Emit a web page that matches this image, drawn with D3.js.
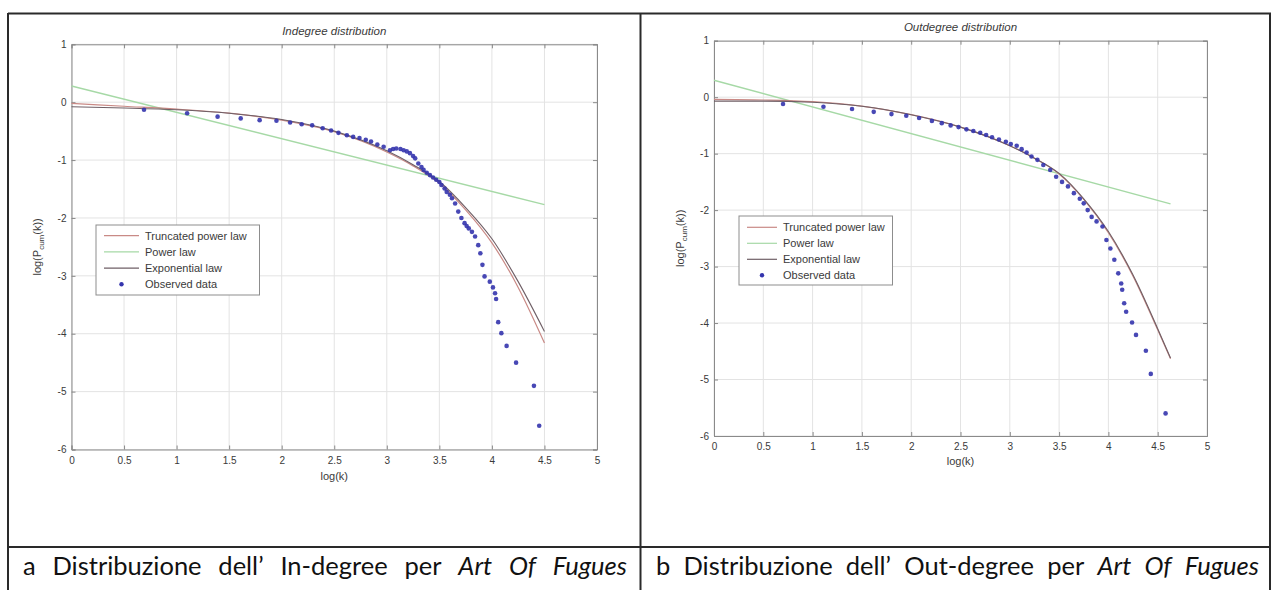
<!DOCTYPE html>
<html><head><meta charset="utf-8">
<script src="https://cdn.jsdelivr.net/npm/d3@7"></script>
<style>body{margin:0;background:#fff}svg{display:block}</style>
</head><body>
<svg id="c" width="1273" height="590"></svg>
<script>
// ---------- data ----------
const xTickValues = [0, 0.5, 1, 1.5, 2, 2.5, 3, 3.5, 4, 4.5, 5];
const xTickLabels = ["0", "0.5", "1", "1.5", "2", "2.5", "3", "3.5", "4", "4.5", "5"];
const yTickValues = [-6, -5, -4, -3, -2, -1, 0, 1];
const yTickLabels = ["-6", "-5", "-4", "-3", "-2", "-1", "0", "1"];
const legendLabels = ["Truncated power law", "Power law", "Exponential law", "Observed data"];
const panelTitles = ["Indegree distribution", "Outdegree distribution"];
const xAxisLabel = "log(k)";
const captionWordsA = [["a",0],["Distribuzione",0],["dell’",0],["In-degree",0],["per",0],["Art",1],["Of",1],["Fugues",1]];
const captionWordsB = [["b",0],["Distribuzione",0],["dell’",0],["Out-degree",0],["per",0],["Art",1],["Of",1],["Fugues",1]];

// Indegree panel
const inPowerLaw = [[0, 0.28], [4.5, -1.77]];
const inTruncated = [[0,-0.02],[0.5,-0.07],[1,-0.12],[1.5,-0.19],[2,-0.31],[2.5,-0.51],[3,-0.86],[3.25,-1.1],[3.5,-1.4],[3.75,-1.86],[4,-2.43],[4.25,-3.2],[4.5,-4.16]];
const inExponential = [[0,-0.08],[0.5,-0.1],[1,-0.13],[1.5,-0.19],[2,-0.3],[2.5,-0.5],[3,-0.84],[3.25,-1.08],[3.5,-1.37],[3.75,-1.82],[4,-2.36],[4.25,-3.1],[4.5,-3.96]];
const inObserved = [[0.69,-0.13],[1.1,-0.19],[1.39,-0.25],[1.61,-0.28],[1.79,-0.31],[1.95,-0.32],[2.08,-0.35],[2.19,-0.38],[2.29,-0.40],[2.39,-0.45],[2.47,-0.49],[2.54,-0.53],[2.62,-0.57],[2.68,-0.60],[2.74,-0.62],[2.8,-0.65],[2.85,-0.68],[2.91,-0.73],[2.97,-0.77],[3.03,-0.83],[3.06,-0.81],[3.09,-0.80],[3.13,-0.81],[3.16,-0.83],[3.19,-0.85],[3.22,-0.88],[3.25,-0.93],[3.27,-0.97],[3.3,-1.06],[3.33,-1.12],[3.35,-1.17],[3.38,-1.22],[3.41,-1.26],[3.44,-1.3],[3.47,-1.34],[3.5,-1.38],[3.52,-1.43],[3.55,-1.49],[3.57,-1.55],[3.6,-1.6],[3.62,-1.66],[3.65,-1.75],[3.68,-1.89],[3.71,-2.0],[3.74,-2.09],[3.76,-2.14],[3.78,-2.18],[3.81,-2.24],[3.84,-2.32],[3.87,-2.47],[3.89,-2.61],[3.91,-2.81],[3.93,-3.01],[3.98,-3.1],[4.01,-3.2],[4.03,-3.3],[4.04,-3.4],[4.06,-3.8],[4.09,-3.99],[4.14,-4.21],[4.23,-4.5],[4.4,-4.9],[4.45,-5.59]];

// Outdegree panel
const outPowerLaw = [[0, 0.30], [4.63, -1.89]];
const outTruncated = [[0,-0.04],[0.5,-0.05],[1,-0.08],[1.5,-0.16],[2,-0.31],[2.5,-0.53],[3,-0.86],[3.25,-1.08],[3.5,-1.36],[3.75,-1.81],[4,-2.4],[4.25,-3.17],[4.5,-4.12],[4.63,-4.63]];
const outExponential = [[0,-0.07],[0.5,-0.07],[1,-0.09],[1.5,-0.16],[2,-0.31],[2.5,-0.53],[3,-0.86],[3.25,-1.08],[3.5,-1.35],[3.75,-1.8],[4,-2.38],[4.25,-3.15],[4.5,-4.1],[4.63,-4.62]];
const outObserved = [[0.70,-0.12],[1.11,-0.17],[1.40,-0.21],[1.62,-0.26],[1.80,-0.30],[1.95,-0.33],[2.08,-0.37],[2.21,-0.42],[2.31,-0.46],[2.40,-0.50],[2.48,-0.53],[2.56,-0.57],[2.63,-0.60],[2.70,-0.63],[2.76,-0.67],[2.82,-0.71],[2.89,-0.75],[2.96,-0.79],[3.01,-0.83],[3.07,-0.86],[3.12,-0.92],[3.17,-0.98],[3.22,-1.05],[3.28,-1.11],[3.34,-1.2],[3.41,-1.29],[3.47,-1.41],[3.53,-1.5],[3.59,-1.58],[3.65,-1.7],[3.71,-1.8],[3.75,-1.88],[3.79,-2.0],[3.83,-2.12],[3.88,-2.2],[3.94,-2.29],[3.98,-2.53],[4.02,-2.68],[4.06,-2.88],[4.1,-3.12],[4.13,-3.3],[4.14,-3.41],[4.16,-3.65],[4.18,-3.8],[4.24,-3.99],[4.28,-4.21],[4.38,-4.49],[4.43,-4.9],[4.58,-5.6]];

// ---------- drawing ----------
const svg = d3.select("#c");
const FONT = "'Liberation Sans', Arial, sans-serif";
const COL = {trunc:"#c98a86", power:"#a6d9a6", expo:"#6f5f66", obs:"#3434ad", grid:"#e3e3e3", axis:"#8a8a8a", text:"#3a3a3a"};

function panel(cfg, data) {
  const x = d3.scaleLinear().domain([0, 5]).range([cfg.x0, cfg.x1]);
  const y = d3.scaleLinear().domain([-6, 1]).range([cfg.yb, cfg.yt]);
  const g = svg.append("g");

  g.append("g").selectAll("line").data(xTickValues).join("line")
    .attr("x1", d => x(d)).attr("x2", d => x(d)).attr("y1", y(-6)).attr("y2", y(1))
    .attr("stroke", COL.grid).attr("stroke-width", 1);
  g.append("g").selectAll("line").data(yTickValues).join("line")
    .attr("x1", x(0)).attr("x2", x(5)).attr("y1", d => y(d)).attr("y2", d => y(d))
    .attr("stroke", COL.grid).attr("stroke-width", 1);

  const ax = g.append("g").attr("transform", `translate(0,${y(-6)})`)
    .call(d3.axisBottom(x).tickValues(xTickValues).tickFormat((d, i) => xTickLabels[i]).tickSize(-4).tickPadding(7));
  const ay = g.append("g").attr("transform", `translate(${x(0)},0)`)
    .call(d3.axisLeft(y).tickValues(yTickValues).tickFormat((d, i) => yTickLabels[i]).tickSize(-4).tickPadding(5));
  const at = g.append("g").attr("transform", `translate(0,${y(1)})`)
    .call(d3.axisTop(x).tickValues(xTickValues).tickFormat("").tickSize(-4));
  const ar = g.append("g").attr("transform", `translate(${x(5)},0)`)
    .call(d3.axisRight(y).tickValues(yTickValues).tickFormat("").tickSize(-4));
  [ax, ay, at, ar].forEach(a => {
    a.select(".domain").attr("stroke", COL.axis);
    a.selectAll(".tick line").attr("stroke", COL.axis);
    a.selectAll("text").attr("fill", COL.text).style("font-family", FONT).style("font-size", "10px");
  });

  const line = d3.line().x(d => x(d[0])).y(d => y(d[1])).curve(d3.curveMonotoneX);
  g.append("path").datum(data.power).attr("d", line).attr("fill", "none").attr("stroke", COL.power).attr("stroke-width", 1.4);
  g.append("path").datum(data.trunc).attr("d", line).attr("fill", "none").attr("stroke", COL.trunc).attr("stroke-width", 1.2);
  g.append("path").datum(data.expo).attr("d", line).attr("fill", "none").attr("stroke", COL.expo).attr("stroke-width", 1.1);

  g.append("g").selectAll("circle").data(data.obs).join("circle")
    .attr("cx", d => x(d[0])).attr("cy", d => y(d[1])).attr("r", 2.3)
    .attr("fill", COL.obs).attr("fill-opacity", 0.9);

  g.append("text").attr("x", (cfg.x0 + cfg.x1) / 2).attr("y", cfg.titleY)
    .attr("text-anchor", "middle").attr("fill", COL.text)
    .style("font-family", FONT).style("font-size", "11.5px").style("font-style", "italic")
    .text(data.title);
  g.append("text").attr("x", (cfg.x0 + cfg.x1) / 2).attr("y", cfg.xlabY)
    .attr("text-anchor", "middle").attr("fill", COL.text)
    .style("font-family", FONT).style("font-size", "11px").text(xAxisLabel);
  const yl = g.append("text").attr("transform", `translate(${cfg.ylabX},${(cfg.yb + cfg.yt) / 2}) rotate(-90)`)
    .attr("text-anchor", "middle").attr("fill", COL.text)
    .style("font-family", FONT).style("font-size", "11px");
  yl.append("tspan").text("log(P");
  yl.append("tspan").attr("dy", 3).style("font-size", "8px").text("cum");
  yl.append("tspan").attr("dy", -3).text("(k))");

  const lg = g.append("g");
  lg.append("rect").attr("x", cfg.lx0).attr("y", cfg.ly0).attr("width", cfg.lx1 - cfg.lx0).attr("height", cfg.ly1 - cfg.ly0)
    .attr("fill", "#fff").attr("stroke", "#8d8d8d").attr("stroke-width", 1);
  const colors = [COL.trunc, COL.power, COL.expo, COL.obs];
  legendLabels.forEach((lab, i) => {
    const yy = cfg.lyFirst + i * cfg.lyStep;
    if (i < 3) {
      lg.append("line").attr("x1", cfg.lsx0).attr("x2", cfg.lsx1).attr("y1", yy).attr("y2", yy)
        .attr("stroke", colors[i]).attr("stroke-width", 1.2);
    } else {
      lg.append("circle").attr("cx", (cfg.lsx0 + cfg.lsx1) / 2).attr("cy", yy).attr("r", 2.2).attr("fill", COL.obs);
    }
    lg.append("text").attr("x", cfg.ltx).attr("y", yy + 4).attr("fill", COL.text)
      .style("font-family", FONT).style("font-size", "11px").text(lab);
  });
}

panel({x0:71.5, x1:597, yb:449.5, yt:44.3, titleY:35, xlabY:480, ylabX:41,
       lx0:96, lx1:259.5, ly0:225, ly1:295, lyFirst:235.7, lyStep:16.2, lsx0:104, lsx1:139, ltx:145},
      {power:inPowerLaw, trunc:inTruncated, expo:inExponential, obs:inObserved, title:panelTitles[0]});
panel({x0:714, x1:1207, yb:436, yt:40.7, titleY:31, xlabY:465, ylabX:684,
       lx0:739, lx1:892.5, ly0:216, ly1:285, lyFirst:227.3, lyStep:16, lsx0:747, lsx1:777, ltx:783},
      {power:outPowerLaw, trunc:outTruncated, expo:outExponential, obs:outObserved, title:panelTitles[1]});

// ---------- frame ----------
const frame = svg.append("g").attr("stroke", "#2a2a2a").attr("stroke-width", 2);
frame.append("line").attr("x1", 8).attr("x2", 1271).attr("y1", 13.5).attr("y2", 13.5);
frame.append("line").attr("x1", 8).attr("x2", 1271).attr("y1", 547).attr("y2", 547);
frame.append("line").attr("x1", 8).attr("x2", 8).attr("y1", 13).attr("y2", 590);
frame.append("line").attr("x1", 640.5).attr("x2", 640.5).attr("y1", 13).attr("y2", 590);
frame.append("line").attr("x1", 1270).attr("x2", 1270).attr("y1", 13).attr("y2", 590);

// ---------- captions (justified) ----------
function caption(words, xStart, xEnd, baseline) {
  let size = 25.5;
  const g = svg.append("g");
  const nodes = words.map(([w, it]) => g.append("text").attr("y", baseline).attr("fill", "#111")
    .style("font-family", "Lato, 'Open Sans', sans-serif").style("font-style", it ? "italic" : "normal")
    .text(w));
  const measure = () => nodes.map(n => n.node().getComputedTextLength());
  nodes.forEach(n => n.style("font-size", size + "px"));
  let widths = measure();
  let total = d3.sum(widths);
  const W = xEnd - xStart;
  while (total + 6 * (nodes.length - 1) > W && size > 12) {
    size -= 0.5;
    nodes.forEach(n => n.style("font-size", size + "px"));
    widths = measure(); total = d3.sum(widths);
  }
  const gap = (W - total) / (nodes.length - 1);
  let cx = xStart;
  nodes.forEach((n, i) => { n.attr("x", cx); cx += widths[i] + gap; });
}
caption(captionWordsA, 23, 627, 575);
caption(captionWordsB, 656, 1259, 575);
</script>
</body></html>
